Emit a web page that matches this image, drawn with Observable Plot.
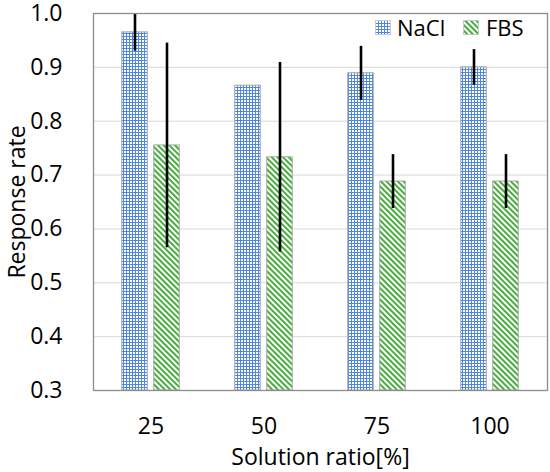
<!DOCTYPE html>
<html><head><meta charset="utf-8">
<script src="https://cdn.jsdelivr.net/npm/d3@7"></script>
<script src="https://cdn.jsdelivr.net/npm/@observablehq/plot@0.6"></script>
<style>
body{margin:0;background:#fff;}
#wrap{position:relative;width:550px;height:472px;font-family:"Open Sans",sans-serif;}
.lg{position:absolute;font-size:22px;color:#000;line-height:1;white-space:nowrap;}
.sw{position:absolute;}
</style></head><body>
<svg width="0" height="0" style="position:absolute">
  <defs>
    <pattern id="pat-nacl" patternUnits="userSpaceOnUse" width="3" height="3">
      <rect width="3" height="3" fill="#ffffff"/>
      <path d="M0 0.5H3M0.5 0V3" stroke="#4f87e0" stroke-width="1"/>
    </pattern>
    <pattern id="pat-fbs" patternUnits="userSpaceOnUse" width="4" height="4" patternTransform="rotate(-45)">
      <rect width="4" height="4" fill="#ffffff"/>
      <rect width="2" height="4" fill="#47ad3c"/>
    </pattern>
  </defs>
</svg>
<div id="wrap"></div>
<script>
const categories = ["25", "50", "75", "100"];
const seriesNames = ["NaCl", "FBS"];
const naclValues = [0.965, 0.866, 0.889, 0.900];
const naclErrors = [0.035, 0, 0.05, 0.033];
const fbsValues = [0.755, 0.733, 0.688, 0.688];
const fbsErrors = [0.19, 0.176, 0.05, 0.05];
const yTicks = [0.3, 0.4, 0.5, 0.6, 0.7, 0.8, 0.9, 1.0];
const xLabel = "Solution ratio[%]";
const yLabel = "Response rate";

const nacl = categories.map((c, i) => ({cat: c, v: naclValues[i], e: naclErrors[i]}));
const fbs = categories.map((c, i) => ({cat: c, v: fbsValues[i], e: fbsErrors[i]}));
const yMin = yTicks[0], yMax = yTicks[yTicks.length - 1];

const chart = Plot.plot({
  width: 550,
  height: 472,
  marginLeft: 93,
  marginRight: 3,
  marginTop: 13,
  marginBottom: 82,
  style: {fontFamily: '"Open Sans", sans-serif', fontSize: "23px", color: "#000", background: "#fff", overflow: "visible"},
  x: {domain: categories, padding: 0},
  y: {domain: [yMin, yMax]},
  marks: [
    Plot.ruleY(yTicks.slice(1, -1), {stroke: "#d9d9d9", strokeWidth: 1}),
    Plot.barY(nacl, {x: "cat", y1: yMin, y2: "v", fill: "url(#pat-nacl)", stroke: "#a6a6a6", strokeWidth: 1, insetLeft: 27.75, insetRight: 59.75}),
    Plot.barY(fbs, {x: "cat", y1: yMin, y2: "v", fill: "url(#pat-fbs)", stroke: "#a6a6a6", strokeWidth: 1, insetLeft: 59.75, insetRight: 27.75}),
    Plot.ruleX(nacl.filter(d => d.e > 0), {x: "cat", y1: d => d.v - d.e, y2: d => d.v + d.e, dx: -16, stroke: "#000", strokeWidth: 2.6, clip: true}),
    Plot.ruleX(fbs.filter(d => d.e > 0), {x: "cat", y1: d => d.v - d.e, y2: d => d.v + d.e, dx: 16, stroke: "#000", strokeWidth: 2.6, clip: true}),
    Plot.frame({stroke: "#8c8c8c", strokeWidth: 1.3}),
    Plot.axisY({ticks: yTicks, tickFormat: d3.format(".1f"), tickSize: 0, tickPadding: 31, label: yLabel, labelAnchor: "center", labelArrow: "none", labelOffset: 85}),
    Plot.axisX({tickSize: 0, tickPadding: 27, label: xLabel, labelAnchor: "center", labelArrow: "none", labelOffset: 74})
  ]
});
const wrap = document.getElementById("wrap");
wrap.appendChild(chart);

// legend
function addSwatch(left, pat) {
  const ns = "http://www.w3.org/2000/svg";
  const s = document.createElementNS(ns, "svg");
  s.setAttribute("width", 16); s.setAttribute("height", 15);
  s.setAttribute("class", "sw");
  s.style.left = left + "px"; s.style.top = "20px";
  const r = document.createElementNS(ns, "rect");
  r.setAttribute("x", 0.5); r.setAttribute("y", 0.5); r.setAttribute("width", 15); r.setAttribute("height", 14);
  r.setAttribute("fill", `url(#${pat})`); r.setAttribute("stroke", "#c8c8c8"); r.setAttribute("stroke-width", 1);
  s.appendChild(r);
  wrap.appendChild(s);
}
function addText(left, txt) {
  const d = document.createElement("div");
  d.className = "lg"; d.textContent = txt;
  d.style.left = left + "px"; d.style.top = "15.5px";
  wrap.appendChild(d);
}
addSwatch(375, "pat-nacl"); addText(397, seriesNames[0]);
addSwatch(463, "pat-fbs"); addText(486, seriesNames[1]);
</script>
</body></html>
